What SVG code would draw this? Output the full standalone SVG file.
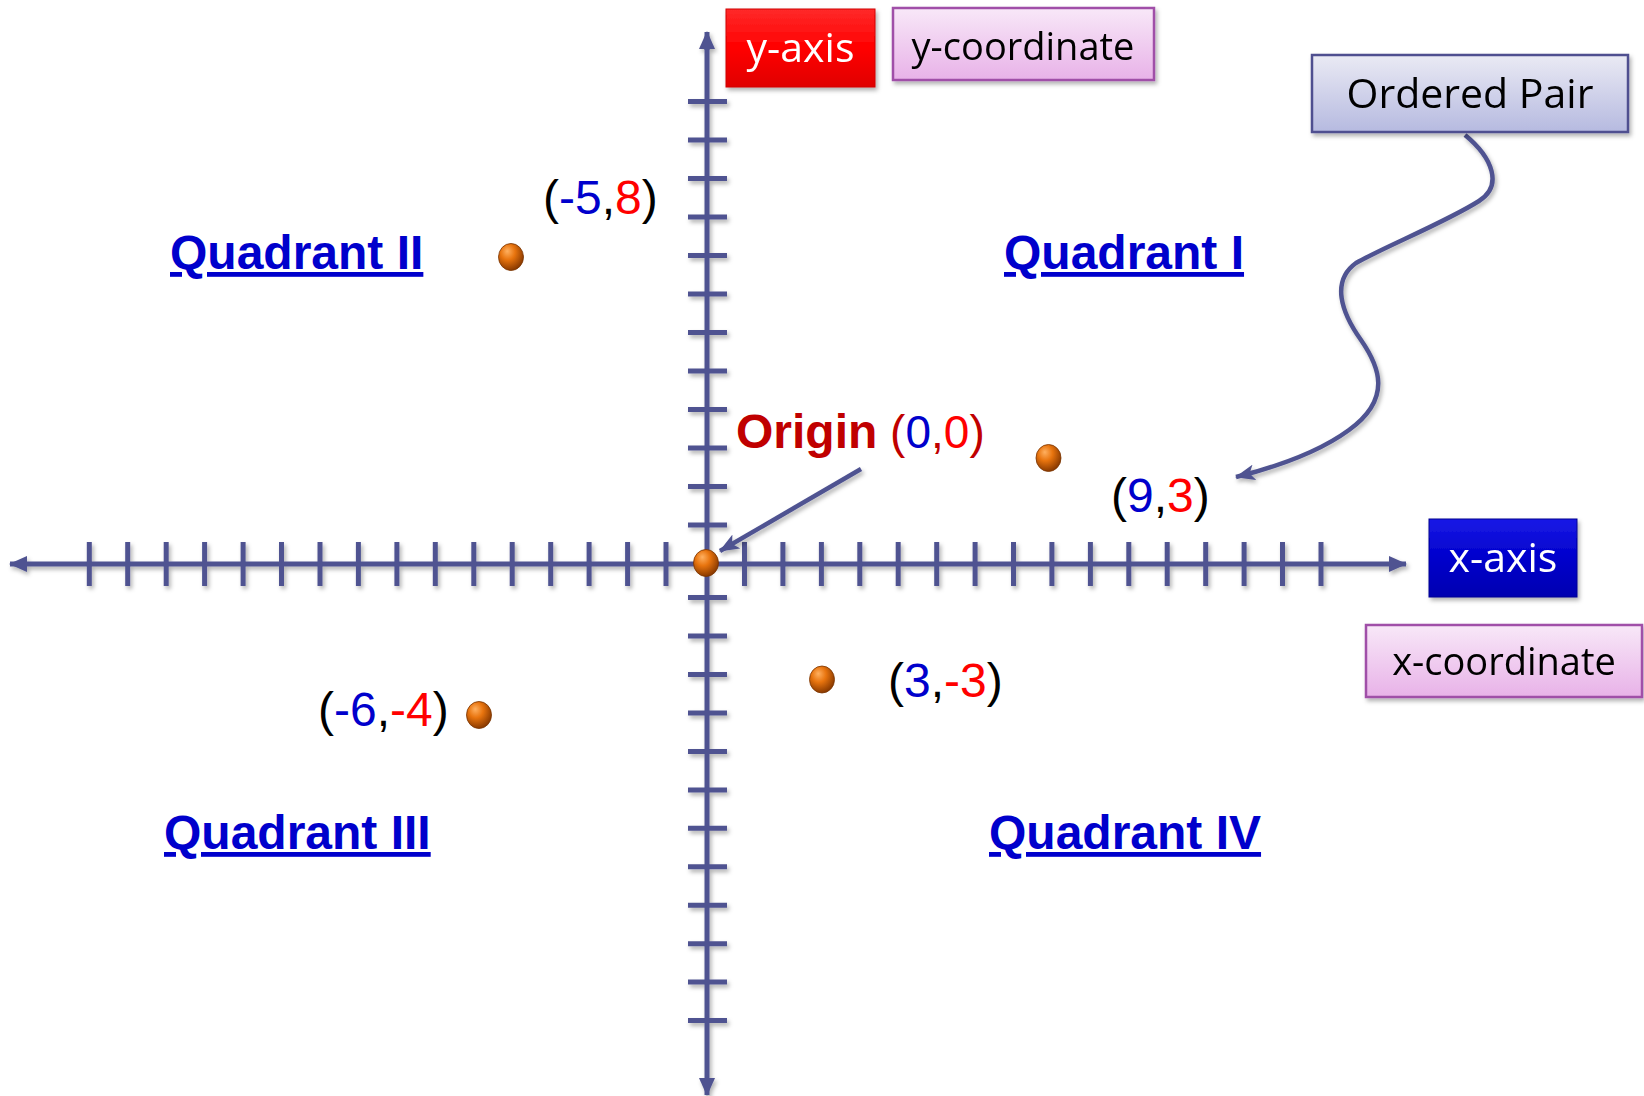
<svg xmlns="http://www.w3.org/2000/svg" width="1644" height="1096" viewBox="0 0 1644 1096">
<style>
.axis{stroke:#4F5391;stroke-width:5;fill:none}
.tick{stroke:#4F5391;stroke-width:5}
.conn{stroke:#4F5391;stroke-width:4.5;fill:none}
.pair{font-family:"Liberation Sans",Arial,sans-serif;font-size:48px;fill:#000}
.b{fill:#0000CC}.r{fill:#FF0000}.dr{fill:#C00000}
.quad{font-family:"Liberation Sans",Arial,sans-serif;font-size:48px;font-weight:bold;fill:#0000CC;text-decoration:underline}
.box{font-family:"Open Sans","Noto Sans",sans-serif;text-anchor:middle}
</style>
<defs>
<filter id="sh" x="-20%" y="-20%" width="140%" height="150%">
<feDropShadow dx="2" dy="3" stdDeviation="2" flood-color="#000" flood-opacity="0.3"/>
</filter>
<linearGradient id="gRed" x1="0" y1="0" x2="0" y2="1"><stop offset="0" stop-color="#FF2a2a"/><stop offset="0.5" stop-color="#FF0000"/><stop offset="1" stop-color="#E00000"/></linearGradient>
<linearGradient id="gBlue" x1="0" y1="0" x2="0" y2="1"><stop offset="0" stop-color="#1a1aE6"/><stop offset="0.5" stop-color="#0000CC"/><stop offset="1" stop-color="#0000B0"/></linearGradient>
<linearGradient id="gPink" x1="0" y1="0" x2="0" y2="1"><stop offset="0" stop-color="#F8E8F8"/><stop offset="1" stop-color="#E8B2E8"/></linearGradient>
<linearGradient id="gLav" x1="0" y1="0" x2="0" y2="1"><stop offset="0" stop-color="#EAEAF4"/><stop offset="1" stop-color="#B6BAE0"/></linearGradient>
<radialGradient id="gBall" cx="0.4" cy="0.35" r="0.65" fx="0.35" fy="0.28"><stop offset="0" stop-color="#FFB060"/><stop offset="0.45" stop-color="#E8740E"/><stop offset="1" stop-color="#8A3A00"/></radialGradient>
<marker id="tri" viewBox="0 0 18 16" refX="17" refY="8" markerWidth="18" markerHeight="16" markerUnits="userSpaceOnUse" orient="auto">
<path d="M0,0 L18,8 L0,16 z" fill="#4F5391"/>
</marker>
<marker id="stealth" viewBox="0 0 20 16" refX="19" refY="8" markerWidth="20" markerHeight="16" markerUnits="userSpaceOnUse" orient="auto">
<path d="M0,0 L20,8 L0,16 L5,8 z" fill="#4F5391"/>
</marker>
</defs>
<g id="axes" filter="url(#sh)">
<line class="axis" x1="26" y1="564" x2="1390" y2="564"/>
<line class="axis" x1="20" y1="564" x2="10" y2="564" marker-end="url(#tri)"/>
<line class="axis" x1="1390" y1="564" x2="1406" y2="564" marker-end="url(#tri)"/>
<line class="axis" x1="707" y1="48" x2="707" y2="1080"/>
<line class="axis" x1="707" y1="50" x2="707" y2="32" marker-end="url(#tri)"/>
<line class="axis" x1="707" y1="1078" x2="707" y2="1095" marker-end="url(#tri)"/>
<g id="xticks">
<line class="tick" x1="89.3" y1="542" x2="89.3" y2="586"/>
<line class="tick" x1="127.7" y1="542" x2="127.7" y2="586"/>
<line class="tick" x1="166.2" y1="542" x2="166.2" y2="586"/>
<line class="tick" x1="204.6" y1="542" x2="204.6" y2="586"/>
<line class="tick" x1="243.1" y1="542" x2="243.1" y2="586"/>
<line class="tick" x1="281.5" y1="542" x2="281.5" y2="586"/>
<line class="tick" x1="320" y1="542" x2="320" y2="586"/>
<line class="tick" x1="358.4" y1="542" x2="358.4" y2="586"/>
<line class="tick" x1="396.9" y1="542" x2="396.9" y2="586"/>
<line class="tick" x1="435.3" y1="542" x2="435.3" y2="586"/>
<line class="tick" x1="473.8" y1="542" x2="473.8" y2="586"/>
<line class="tick" x1="512.2" y1="542" x2="512.2" y2="586"/>
<line class="tick" x1="550.7" y1="542" x2="550.7" y2="586"/>
<line class="tick" x1="589.1" y1="542" x2="589.1" y2="586"/>
<line class="tick" x1="627.6" y1="542" x2="627.6" y2="586"/>
<line class="tick" x1="666" y1="542" x2="666" y2="586"/>
<line class="tick" x1="744.5" y1="542" x2="744.5" y2="586"/>
<line class="tick" x1="782.9" y1="542" x2="782.9" y2="586"/>
<line class="tick" x1="821.4" y1="542" x2="821.4" y2="586"/>
<line class="tick" x1="859.8" y1="542" x2="859.8" y2="586"/>
<line class="tick" x1="898.2" y1="542" x2="898.2" y2="586"/>
<line class="tick" x1="936.7" y1="542" x2="936.7" y2="586"/>
<line class="tick" x1="975.1" y1="542" x2="975.1" y2="586"/>
<line class="tick" x1="1013.5" y1="542" x2="1013.5" y2="586"/>
<line class="tick" x1="1051.9" y1="542" x2="1051.9" y2="586"/>
<line class="tick" x1="1090.4" y1="542" x2="1090.4" y2="586"/>
<line class="tick" x1="1128.8" y1="542" x2="1128.8" y2="586"/>
<line class="tick" x1="1167.2" y1="542" x2="1167.2" y2="586"/>
<line class="tick" x1="1205.7" y1="542" x2="1205.7" y2="586"/>
<line class="tick" x1="1244.1" y1="542" x2="1244.1" y2="586"/>
<line class="tick" x1="1282.5" y1="542" x2="1282.5" y2="586"/>
<line class="tick" x1="1321" y1="542" x2="1321" y2="586"/>
</g>
<g id="yticks">
<line class="tick" x1="688" y1="101.6" x2="727" y2="101.6"/>
<line class="tick" x1="688" y1="140.1" x2="727" y2="140.1"/>
<line class="tick" x1="688" y1="178.6" x2="727" y2="178.6"/>
<line class="tick" x1="688" y1="217.1" x2="727" y2="217.1"/>
<line class="tick" x1="688" y1="255.6" x2="727" y2="255.6"/>
<line class="tick" x1="688" y1="294.1" x2="727" y2="294.1"/>
<line class="tick" x1="688" y1="332.6" x2="727" y2="332.6"/>
<line class="tick" x1="688" y1="371.1" x2="727" y2="371.1"/>
<line class="tick" x1="688" y1="409.6" x2="727" y2="409.6"/>
<line class="tick" x1="688" y1="448.1" x2="727" y2="448.1"/>
<line class="tick" x1="688" y1="486.6" x2="727" y2="486.6"/>
<line class="tick" x1="688" y1="525.1" x2="727" y2="525.1"/>
<line class="tick" x1="688" y1="597.6" x2="727" y2="597.6"/>
<line class="tick" x1="688" y1="636.1" x2="727" y2="636.1"/>
<line class="tick" x1="688" y1="674.5" x2="727" y2="674.5"/>
<line class="tick" x1="688" y1="713" x2="727" y2="713"/>
<line class="tick" x1="688" y1="751.4" x2="727" y2="751.4"/>
<line class="tick" x1="688" y1="789.9" x2="727" y2="789.9"/>
<line class="tick" x1="688" y1="828.3" x2="727" y2="828.3"/>
<line class="tick" x1="688" y1="866.8" x2="727" y2="866.8"/>
<line class="tick" x1="688" y1="905.2" x2="727" y2="905.2"/>
<line class="tick" x1="688" y1="943.7" x2="727" y2="943.7"/>
<line class="tick" x1="688" y1="982.1" x2="727" y2="982.1"/>
<line class="tick" x1="688" y1="1020.6" x2="727" y2="1020.6"/>
</g>
</g>
<g id="connectors" filter="url(#sh)">
<path class="conn" d="M861,469 L720,551" marker-end="url(#stealth)"/>
<path class="conn" d="M1465,135 C1493,158 1503,186 1479,201 C1446,222 1386,246 1356,263 C1331,281 1341,312 1361,340 C1379,366 1393,398 1349,430 C1319,452 1280,466 1236,477" marker-end="url(#stealth)"/>
</g>
<g id="pt-origin"><ellipse cx="706" cy="563" rx="12.5" ry="13.5" fill="url(#gBall)" stroke="#7A3300" stroke-width="0.8"/></g>
<g id="pt-m5-8"><ellipse cx="511" cy="257" rx="12.5" ry="13.5" fill="url(#gBall)" stroke="#7A3300" stroke-width="0.8"/></g>
<g id="pt-9-3"><ellipse cx="1048.5" cy="458" rx="12.5" ry="13.5" fill="url(#gBall)" stroke="#7A3300" stroke-width="0.8"/></g>
<g id="pt-3-m3"><ellipse cx="822" cy="679.5" rx="12.5" ry="13.5" fill="url(#gBall)" stroke="#7A3300" stroke-width="0.8"/></g>
<g id="pt-m6-m4"><ellipse cx="479" cy="715" rx="12.5" ry="13.5" fill="url(#gBall)" stroke="#7A3300" stroke-width="0.8"/></g>
<g id="lbl-m5-8"><text class="pair" x="543" y="214">(<tspan class="b">-5</tspan>,<tspan class="r">8</tspan>)</text></g>
<g id="lbl-9-3"><text class="pair" x="1111" y="512">(<tspan class="b">9</tspan>,<tspan class="r">3</tspan>)</text></g>
<g id="lbl-3-m3"><text class="pair" x="888" y="697">(<tspan class="b">3</tspan>,<tspan class="r">-3</tspan>)</text></g>
<g id="lbl-m6-m4"><text class="pair" x="318" y="726">(<tspan class="b">-6</tspan>,<tspan class="r">-4</tspan>)</text></g>
<g id="lbl-origin"><text x="736" y="448" font-family="Liberation Sans, Arial, sans-serif" font-size="48"><tspan font-weight="bold" class="dr">Origin</tspan><tspan class="dr" font-size="46"> (</tspan><tspan class="b" font-size="46">0</tspan><tspan class="dr" font-size="46">,</tspan><tspan class="r" font-size="46">0</tspan><tspan class="dr" font-size="46">)</tspan></text></g>
<g id="q1"><text class="quad" x="1004" y="269">Quadrant I</text></g>
<g id="q2"><text class="quad" x="170" y="269">Quadrant II</text></g>
<g id="q3"><text class="quad" x="164" y="849">Quadrant III</text></g>
<g id="q4"><text class="quad" x="989" y="849">Quadrant IV</text></g>
<g id="yaxis-box" filter="url(#sh)"><rect x="726" y="9" width="149" height="78" fill="url(#gRed)" stroke="#D00000" stroke-width="1"/><text class="box" x="800.5" y="62" font-size="41" fill="#FFFFFF">y-axis</text></g>
<g id="ycoord-box" filter="url(#sh)"><rect x="893" y="8" width="261" height="72" fill="url(#gPink)" stroke="#A050A8" stroke-width="2.5"/><text class="box" x="1023" y="60" font-size="38" fill="#000">y-coordinate</text></g>
<g id="pair-box" filter="url(#sh)"><rect x="1312" y="55" width="316" height="77" fill="url(#gLav)" stroke="#505090" stroke-width="2.5"/><text class="box" x="1470" y="108" font-size="41" fill="#000">Ordered Pair</text></g>
<g id="xaxis-box" filter="url(#sh)"><rect x="1429" y="519" width="148" height="78" fill="url(#gBlue)" stroke="#000090" stroke-width="1"/><text class="box" x="1503" y="572" font-size="41" fill="#FFFFFF">x-axis</text></g>
<g id="xcoord-box" filter="url(#sh)"><rect x="1366" y="625" width="276" height="72" fill="url(#gPink)" stroke="#A050A8" stroke-width="2.5"/><text class="box" x="1504" y="675" font-size="38" fill="#000">x-coordinate</text></g>
</svg>
